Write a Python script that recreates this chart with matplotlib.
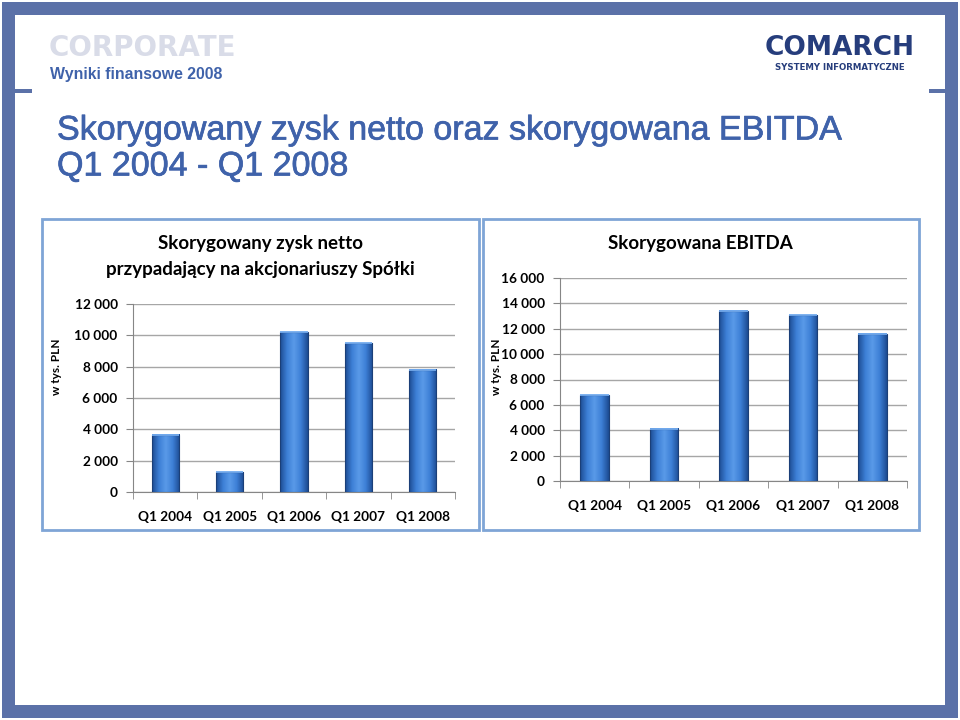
import numpy as np
import matplotlib
matplotlib.use("Agg")
import matplotlib.pyplot as plt
import matplotlib.patheffects as pe
from matplotlib.patches import Rectangle
from matplotlib.ticker import FuncFormatter, FixedLocator
from matplotlib.colors import LinearSegmentedColormap

quarters = ["Q1 2004", "Q1 2005", "Q1 2006", "Q1 2007", "Q1 2008"]
zysk_netto = [3650, 1250, 10200, 9500, 7800]
ebitda = [6750, 4100, 13400, 13050, 11600]
zysk_ticks = [0, 2000, 4000, 6000, 8000, 10000, 12000]
ebitda_ticks = [0, 2000, 4000, 6000, 8000, 10000, 12000, 14000, 16000]

W, H = 960, 720
frame_blue = "#5b71a8"
title_blue = "#3f62aa"
chart_font = "Lato"

fig = plt.figure(figsize=(9.6, 7.2), dpi=100)
fig.patch.set_facecolor("white")


def px_rect(x0, y0, x1, y1):
    # pixel box (top-left origin) -> figure fraction rect
    return [x0 / W, 1 - y1 / H, (x1 - x0) / W, (y1 - y0) / H]


def fig_box(x0, y0, x1, y1, **kw):
    r = px_rect(x0, y0, x1, y1)
    fig.patches.append(Rectangle((r[0], r[1]), r[2], r[3],
                                 transform=fig.transFigure, zorder=-5, **kw))


# slide frame
fig_box(2, 2, 958, 15, color=frame_blue, lw=0)
fig_box(2, 705, 958, 718, color=frame_blue, lw=0)
fig_box(2, 2, 15, 718, color=frame_blue, lw=0)
fig_box(945, 2, 958, 718, color=frame_blue, lw=0)
fig_box(15, 89, 32, 93, color=frame_blue, lw=0)
fig_box(929, 89, 945, 93, color=frame_blue, lw=0)

# header texts
fig.text(49 / W, 1 - 48 / H, "CORPORATE", fontsize=20, fontweight="heavy",
         color="#d9dce8", family="DejaVu Sans", va="center", ha="left")
fig.text(50 / W, 1 - 74 / H, "Wyniki finansowe 2008", fontsize=11.4,
         fontweight="bold", color=title_blue, family="Liberation Sans",
         va="center", ha="left")
fig.text(840 / W, 1 - 48 / H, "COMARCH", fontsize=19, fontweight="heavy",
         color="#263d7c", family="DejaVu Sans", va="center", ha="center")
fig.text(840 / W, 1 - 67 / H, "SYSTEMY INFORMATYCZNE", fontsize=6.2,
         fontweight="bold", color="#263d7c", family="DejaVu Sans",
         va="center", ha="center")
heavy = [pe.withStroke(linewidth=0.5, foreground=title_blue)]
fig.text(57 / W, 1 - 131 / H, "Skorygowany zysk netto oraz skorygowana EBITDA",
         fontsize=24.5, color=title_blue, family="Liberation Sans",
         va="center", ha="left", path_effects=heavy)
fig.text(57 / W, 1 - 167 / H, "Q1 2004 - Q1 2008",
         fontsize=24.5, color=title_blue, family="Liberation Sans",
         va="center", ha="left", path_effects=heavy)

# chart panels
fig_box(42, 219, 479, 530, facecolor="white", edgecolor="#7fa5d6", lw=2)
fig_box(483, 219, 919, 530, facecolor="white", edgecolor="#7fa5d6", lw=2)

bar_cmap = LinearSegmentedColormap.from_list(
    "bar", ["#1d4c93", "#3d7fd6", "#5a9ae8", "#3d7fd6", "#1d4c93"])
grad = np.linspace(0, 1, 64).reshape(1, -1)


def thousands(v, pos):
    return "{:,.0f}".format(v).replace(",", " ")


def draw_chart(rect, values, ticks, width):
    ax = fig.add_axes(rect)
    ax.patch.set_alpha(0)
    x = np.arange(len(values))
    ax.yaxis.set_major_locator(FixedLocator(ticks))
    ax.yaxis.set_major_formatter(FuncFormatter(thousands))
    ax.grid(axis="y", color="#a6a6a6", lw=1)
    ax.set_axisbelow(True)
    for xi, v in zip(x, values):
        ax.imshow(grad, cmap=bar_cmap, aspect="auto", zorder=3,
                  extent=[xi - width / 2, xi + width / 2, 0, v])
        ax.bar(xi, v, width=width, facecolor="none", edgecolor="#1b3f78",
               lw=0.8, zorder=4)
        ax.plot([xi - width / 2, xi + width / 2], [v, v], color="#74acef",
                lw=1.3, zorder=5, solid_capstyle="butt")
    ax.set_xlim(-0.5, len(values) - 0.5)
    ax.set_ylim(0, ticks[-1])
    for s in ["top", "right"]:
        ax.spines[s].set_visible(False)
    ax.spines["left"].set_color("#868686")
    ax.spines["bottom"].set_color("#868686")
    ax.set_xticks(x)
    ax.set_xticklabels(quarters)
    ax.xaxis.set_minor_locator(FixedLocator(np.arange(-0.5, len(values), 1)))
    ax.tick_params(axis="x", which="major", length=0, pad=14)
    ax.tick_params(axis="x", which="minor", length=5, color="#868686")
    ax.tick_params(axis="y", length=5, color="#868686", pad=6)
    for lab in ax.get_xticklabels() + ax.get_yticklabels():
        lab.set_family(chart_font)
        lab.set_fontweight("bold")
        lab.set_fontsize(9.8)
    return ax


ax1 = draw_chart(px_rect(133, 304, 455, 492), zysk_netto, zysk_ticks, 0.42)
ax2 = draw_chart(px_rect(560, 278, 907, 481), ebitda, ebitda_ticks, 0.41)

fig.text(260 / W, 1 - 244 / H, "Skorygowany zysk netto", fontsize=13.5,
         fontweight="bold", family=chart_font, ha="center", va="center")
fig.text(260 / W, 1 - 270 / H, "przypadający na akcjonariuszy Spółki",
         fontsize=13.5, fontweight="bold", family=chart_font,
         ha="center", va="center")
fig.text(700 / W, 1 - 244 / H, "Skorygowana EBITDA", fontsize=13.5,
         fontweight="bold", family=chart_font, ha="center", va="center")
fig.text(57 / W, 1 - 367 / H, "w tys. PLN", fontsize=8.5, fontweight="bold",
         family=chart_font, rotation=90, ha="center", va="center")
fig.text(496 / W, 1 - 367 / H, "w tys. PLN", fontsize=8.5, fontweight="bold",
         family=chart_font, rotation=90, ha="center", va="center")

fig.savefig("out.png", dpi=100, facecolor="white")
